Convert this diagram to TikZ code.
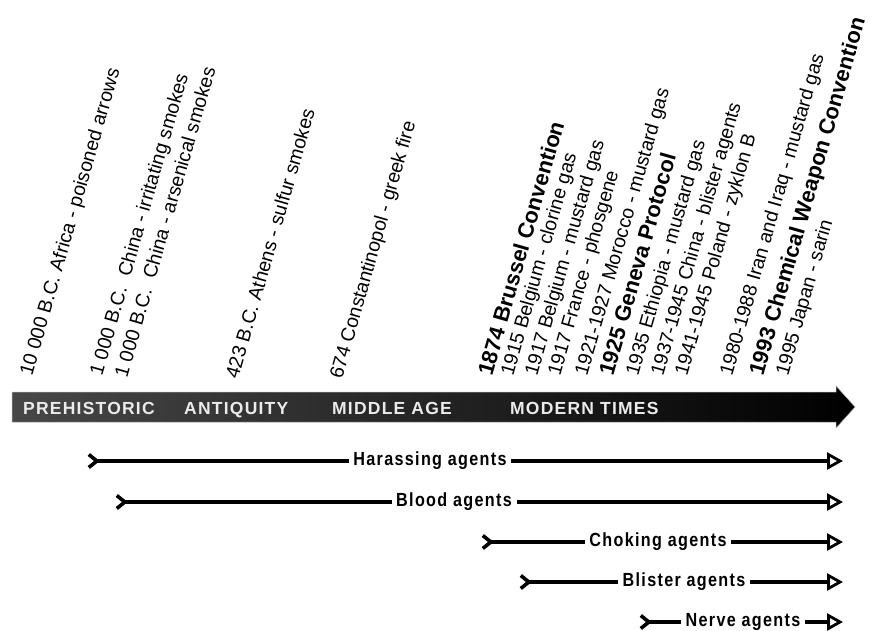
\documentclass[tikz,border=0pt]{standalone}
\usepackage{fontspec}
\setmainfont{Liberation Sans}
\newfontfamily\barfont[LetterSpace=7]{Liberation Sans}
\newfontfamily\agentfont[FakeStretch=0.85,LetterSpace=7]{Liberation Sans}
\usetikzlibrary{arrows.meta}
\begin{document}
\begin{tikzpicture}[x=1pt,y=1pt,
  event/.style={rotate=74, anchor=base west, inner sep=0pt, font=\fontsize{19.5}{22}\selectfont},
  treaty/.style={event, font=\fontsize{22}{26}\selectfont\bfseries},
  era/.style={anchor=base west, inner sep=0pt, text=white!92!black, font=\barfont\fontsize{17.5}{20}\selectfont\bfseries},
  agent/.style={fill=white, inner xsep=4.5pt, inner ysep=1pt, font=\agentfont\fontsize{19}{22}\selectfont\bfseries},
  agentline/.style={line width=3.2pt},
  tailtip/.style={{Straight Barb[reversed,length=8pt,width=13pt,line width=3.6pt 0]}-},
  headtip/.style={-{Triangle[fill=white,length=16pt,width=17pt,line width=2.8pt 0]}}
]
\useasboundingbox (0,0) rectangle (874,630);
% time bar
\shade[left color=black!72, middle color=black!87, right color=black, draw=black!35, line width=0.5pt]
  (12,208) -- (836,208) -- (836,202) -- (855,223) -- (836,244) -- (836,238) -- (12,238) -- cycle;
\node[era] (pre) at (23,216) {PREHISTORIC};
\node[era] (ant) at (184,216) {ANTIQUITY};
\node[era] (mid) at (332,216) {MIDDLE AGE};
\node[era] (mod) at (510,216) {MODERN TIMES};
% events
\node[event] (e1) at (32,253) {10 000 B.C. Africa - poisoned arrows};
\node[event] (e2) at (102,253) {1 000 B.C.~ China - irritating smokes};
\node[event] (e3) at (127,251) {1 000 B.C.~ China - arsenical smokes};
\node[event] (e4) at (238,250) {423 B.C. Athens - sulfur smokes};
\node[event] (e5) at (342,250) {674 Constantinopol - greek fire};
\node[treaty] (e6) at (492,253) {1874 Brussel Convention};
\node[event] (e7) at (513,253) {1915 Belgium - clorine gas};
\node[event] (e8) at (537,253) {1917 Belgium - mustard gas};
\node[event] (e9) at (560,253) {1917 France - phosgene};
\node[event] (e10) at (587,253) {1921-1927 Morocco - mustard gas};
\node[treaty] (e11) at (613,253) {1925 Geneva Protocol};
\node[event] (e12) at (638,253) {1935 Ethiopia - mustard gas};
\node[event] (e13) at (663,253) {1937-1945 China - blister agents};
\node[event] (e14) at (687,253) {1941-1945 Poland - zyklon B};
\node[event] (e15) at (732,253) {1980-1988 Iran and Iraq - mustard gas};
\node[treaty] (e16) at (763,253) {1993 Chemical Weapon Convention};
\node[event] (e17) at (788,253) {1995 Japan - sarin};
% agents
\coordinate (h0) at (87,169);  \coordinate (h1) at (843,169);
\node[agent] (hl) at (430,169) {Harassing agents};
\draw[agentline, tailtip] (h0) -- (hl);
\draw[agentline, headtip] (hl) -- (h1);
\coordinate (b0) at (115,128); \coordinate (b1) at (843,128);
\node[agent] (bl) at (454,128) {Blood agents};
\draw[agentline, tailtip] (b0) -- (bl);
\draw[agentline, headtip] (bl) -- (b1);
\coordinate (c0) at (481,88); \coordinate (c1) at (843,88);
\node[agent] (cl) at (658,88) {Choking agents};
\draw[agentline, tailtip] (c0) -- (cl);
\draw[agentline, headtip] (cl) -- (c1);
\coordinate (s0) at (519,48); \coordinate (s1) at (843,48);
\node[agent] (sl) at (684,48) {Blister agents};
\draw[agentline, tailtip] (s0) -- (sl);
\draw[agentline, headtip] (sl) -- (s1);
\coordinate (n0) at (639,8); \coordinate (n1) at (843,8);
\node[agent] (nl) at (743,8) {Nerve agents};
\draw[agentline, tailtip] (n0) -- (nl);
\draw[agentline, headtip] (nl) -- (n1);
\end{tikzpicture}
\end{document}
